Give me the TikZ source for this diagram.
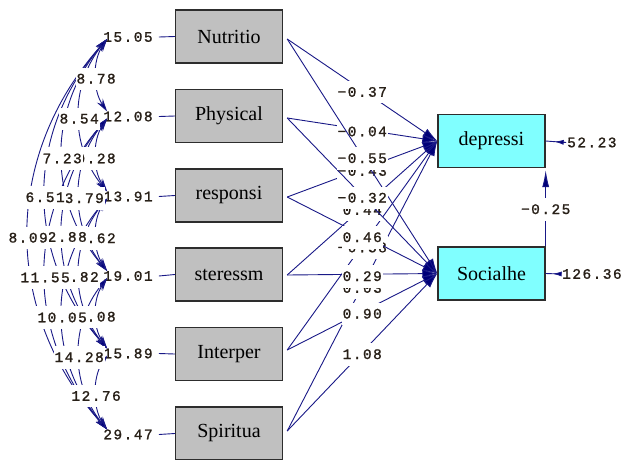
\documentclass[tikz,border=0pt]{standalone}
\usepackage{fontspec}
\setmainfont{Liberation Serif}
\newfontfamily\labfont[LetterSpace=10,FakeBold=1.2]{Liberation Mono}
\usetikzlibrary{arrows.meta,calc}
\definecolor{pathc}{RGB}{25,25,135}
\definecolor{tipc}{RGB}{0,0,120}
\definecolor{boxgray}{RGB}{192,192,192}
\definecolor{boxcyan}{RGB}{128,255,255}
\definecolor{boxline}{RGB}{45,45,45}
\definecolor{labtext}{RGB}{40,32,24}
\newcommand\carc[4]{\draw[cov] ([shift={(5,2)}]v#1.west) .. controls +(-#3,#4) and +(-#3,-#4) .. ([shift={(5,-5)}]v#2.west);}
\newcommand\clab[5]{\path ([shift={(5,2)}]v#1.west) .. controls +(-#3,#4) and +(-#3,-#4) .. ([shift={(5,-5)}]v#2.west) node[lab,pos=0.5,yshift=-3.5pt]{#5};}
\begin{document}
\begin{tikzpicture}[x=1pt,y=-1pt,
  obs/.style={draw=boxline, line width=1.4pt, fill=boxgray, minimum width=107pt, minimum height=53pt, inner sep=0pt, font=\fontsize{20}{20}\selectfont},
  lat/.style={obs, fill=boxcyan},
  lab/.style={font=\labfont\fontsize{14.5}{15}\selectfont, text=labtext, fill=white, inner xsep=1pt, inner ysep=6.5pt, text height=9.5pt, text depth=0pt},
  vlab/.style={lab},
  pth/.style={draw=pathc, line width=0.9pt},
  cov/.style={pth, {Stealth[length=13pt,width=7pt,fill=tipc]}-{Stealth[length=13pt,width=7pt,fill=tipc]}},
  reg/.style={pth, -{Latex[length=15pt,width=9pt,fill=tipc]}}
]
\useasboundingbox (0,0) rectangle (625,459);
\fill[white] (0,0) rectangle (625,459);
% observed exogenous boxes
\node[obs] (n1) at (229,36.5) {Nutritio};
\node[obs] (n2) at (229,116) {Physical};
\node[obs] (n3) at (229,195.5) {responsi};
\node[obs] (n4) at (229,274.5) {steressm};
\node[obs] (n5) at (229,354) {Interper};
\node[obs] (n6) at (229,433.5) {Spiritua};
% endogenous boxes
\node[lat] (dep) at (491.5,141) {depressi};
\node[lat] (soc) at (491.5,273.5) {Socialhe};
% variances
\node[vlab] (v1) at (128,37) {15.05};
\node[vlab] (v2) at (128,116.5) {12.08};
\node[vlab] (v3) at (128,196.5) {13.91};
\node[vlab] (v4) at (128,276) {19.01};
\node[vlab] (v5) at (128,353.5) {15.89};
\node[vlab] (v6) at (128,434.5) {29.47};
\foreach \i in {1,...,6} \draw[pth] ([xshift=5pt]v\i.east) -- (n\i.west);
% covariance arcs
\carc{1}{2}{14.7}{21.7}
\carc{2}{3}{14.7}{21.7}
\carc{3}{4}{14.7}{21.7}
\carc{4}{5}{14.7}{21.7}
\carc{5}{6}{14.7}{21.7}
\carc{1}{3}{37.3}{45.5}
\carc{2}{4}{37.3}{45.5}
\carc{3}{5}{37.3}{45.5}
\carc{4}{6}{37.3}{45.5}
\carc{1}{4}{60}{69.4}
\carc{2}{5}{60}{69.4}
\carc{3}{6}{60}{69.4}
\carc{1}{5}{82.7}{93.2}
\carc{2}{6}{82.7}{93.2}
\carc{1}{6}{105.3}{117}
% covariance labels
\clab{1}{2}{14.7}{21.7}{8.78}
\clab{2}{3}{14.7}{21.7}{9.28}
\clab{3}{4}{14.7}{21.7}{9.62}
\clab{4}{5}{14.7}{21.7}{9.08}
\clab{5}{6}{14.7}{21.7}{12.76}
\clab{1}{3}{37.3}{45.5}{8.54}
\clab{2}{4}{37.3}{45.5}{13.79}
\clab{3}{5}{37.3}{45.5}{9.82}
\clab{4}{6}{37.3}{45.5}{14.28}
\clab{1}{4}{60}{69.4}{7.23}
\clab{2}{5}{60}{69.4}{12.88}
\clab{3}{6}{60}{69.4}{10.05}
\clab{1}{5}{82.7}{93.2}{6.51}
\clab{2}{6}{82.7}{93.2}{11.55}
\clab{1}{6}{105.3}{117}{8.09}
% path start points
\coordinate (s1) at ([shift={(4,2.5)}]n1.east);
\coordinate (s2) at ([shift={(4,2)}]n2.east);
\coordinate (s3) at ([shift={(4,1.5)}]n3.east);
\coordinate (s4) at ([shift={(4,0.5)}]n4.east);
\coordinate (s5) at ([shift={(4,-4)}]n5.east);
\coordinate (s6) at ([shift={(4,-2.5)}]n6.east);
% paths to depressi
\foreach \i in {1,...,6} \draw[reg] (s\i) -- (dep.west);
\path (s1) -- (dep.west) node[lab,pos=0.5,yshift=-2pt]{−0.37};
\path (s2) -- (dep.west) node[lab,pos=0.5,yshift=-2pt]{−0.04};
\path (s3) -- (dep.west) node[lab,pos=0.5,yshift=-2pt]{−0.43};
\path (s4) -- (dep.west) node[lab,pos=0.5,yshift=-2pt]{0.44};
\path (s5) -- (dep.west) node[lab,pos=0.5,yshift=-2pt]{−0.58};
\path (s6) -- (dep.west) node[lab,pos=0.5,yshift=-2pt]{0.03};
% paths to Socialhe
\foreach \i in {1,...,6} \draw[reg] (s\i) -- (soc.west);
\path (s1) -- (soc.west) node[lab,pos=0.5,yshift=-2pt]{−0.55};
\path (s2) -- (soc.west) node[lab,pos=0.5,yshift=-2pt]{−0.32};
\path (s3) -- (soc.west) node[lab,pos=0.5,yshift=-2pt]{0.46};
\path (s4) -- (soc.west) node[lab,pos=0.5,yshift=-2pt]{0.29};
\path (s5) -- (soc.west) node[lab,pos=0.5,yshift=-2pt]{0.90};
\path (s6) -- (soc.west) node[lab,pos=0.5,yshift=-2pt]{1.08};
% Socialhe -> depressi
\draw[pth, -{Latex[length=17pt,width=7pt,fill=tipc]}, shorten >=2pt] (soc.north east) -- (dep.south east);
\path (soc.north east) -- (dep.south east) node[lab,pos=0.5,yshift=-2pt]{−0.25};
% error variances
\node[lab, anchor=west] (e1) at (566,142.5) {52.23};
\node[lab, anchor=west] (e2) at (561,274) {126.36};
\draw[pth] (dep.east) -- (e1.west);
\draw[pth, -{Latex[length=9pt,width=5pt,fill=tipc]}, shorten >=9pt] (e1.west) -- (dep.east);
\draw[pth] (soc.east) -- (e2.west);
\draw[pth, -{Latex[length=9pt,width=5pt,fill=tipc]}, shorten >=7pt] (e2.west) -- (soc.east);
\end{tikzpicture}
\end{document}
